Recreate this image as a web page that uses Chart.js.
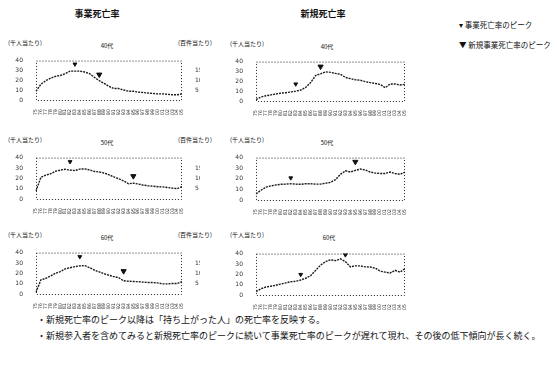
<!DOCTYPE html>
<html lang="ja">
<head>
<meta charset="UTF-8">
<title>死亡率の推移</title>
<script src="https://cdn.jsdelivr.net/npm/chart.js"></script>
<style>
  body { margin: 0; background: #fff; font-family: "Noto Sans CJK JP", "Noto Sans", sans-serif; color: #111; }
  #wrap { position: relative; width: 557px; height: 365px; overflow: hidden; }
  canvas { position: absolute; }
  .t { position: absolute; white-space: nowrap; line-height: 1; color: #111; }
  .head { font-size: 9px; font-weight: bold; transform: translateX(-50%); }
  .ax { font-size: 6px; }
  .pn { font-size: 6px; transform: translateX(-50%); }
  .lg { font-size: 7.5px; }
  .note { font-size: 9px; }
</style>
</head>
<body>
<div id="wrap">
  <div class="t head" style="left:97px;top:9px">事業死亡率</div>
  <div class="t head" style="left:323px;top:9px">新規死亡率</div>

  <div class="t lg" style="left:459px;top:21px">▾ 事業死亡率のピーク</div>
  <div class="t lg" style="left:459px;top:41px">▼ 新規事業死亡率のピーク</div>

  <div class="t ax" style="left:8px;top:40px">(千人当たり)</div>
  <div class="t ax" style="left:178px;top:40px">(百件当たり)</div>
  <div class="t pn" style="left:107px;top:43px">40代</div>
  <div class="t ax" style="left:230px;top:41px">(千人当たり)</div>
  <div class="t pn" style="left:327px;top:44px">40代</div>

  <div class="t ax" style="left:8px;top:137px">(千人当たり)</div>
  <div class="t ax" style="left:178px;top:137px">(百件当たり)</div>
  <div class="t pn" style="left:107px;top:140px">50代</div>
  <div class="t ax" style="left:230px;top:137px">(千人当たり)</div>
  <div class="t pn" style="left:327px;top:140px">50代</div>

  <div class="t ax" style="left:8px;top:232px">(千人当たり)</div>
  <div class="t ax" style="left:178px;top:232px">(百件当たり)</div>
  <div class="t pn" style="left:107px;top:235px">60代</div>
  <div class="t ax" style="left:230px;top:232px">(千人当たり)</div>
  <div class="t pn" style="left:329px;top:235px">60代</div>

  <div class="t note" style="left:37px;top:315px">・新規死亡率のピーク以降は「持ち上がった人」の死亡率を反映する。</div>
  <div class="t note" style="left:37px;top:331px">・新規参入者を含めてみると新規死亡率のピークに続いて事業死亡率のピークが遅れて現れ、その後の低下傾向が長く続く。</div>

  <canvas id="c1" width="195" height="63" style="left:5px;top:52px"></canvas>
  <canvas id="c2" width="195" height="65" style="left:5px;top:149px"></canvas>
  <canvas id="c3" width="195" height="65" style="left:5px;top:244px"></canvas>
  <canvas id="c4" width="197" height="63" style="left:215px;top:53px"></canvas>
  <canvas id="c5" width="197" height="66" style="left:215px;top:149px"></canvas>
  <canvas id="c6" width="197" height="65" style="left:215px;top:245px"></canvas>
</div>

<script>
// 横軸（年）
const years = [];
for (let y = 1975; y <= 2005; y++) years.push(String(y));

// 左列：事業死亡率
const biz40 = [8.9,16,19.6,22.2,24,24.9,26.7,29.3,29.3,29.3,28.4,26.7,23.1,19.6,16.9,13.8,11.6,11.6,10.2,8.9,8.9,8,7.6,7.1,6.7,6.2,6.2,5.8,5.3,5.3,6.2];
const biz50 = [7.7,20.9,23,24.4,26.8,27.9,28.7,27.9,27.5,28.9,29.1,28.1,26.6,26.1,25.1,23.4,21.3,19.6,17.4,14.7,15.3,14.5,13.4,12.8,12.4,11.9,11.7,11.1,10.5,10,11.9];
const biz60 = [1.7,13.6,15.1,17.4,20,21.7,24.3,25.4,26.4,27.2,27.5,25.5,23.1,21.3,19.6,18.1,16.8,15.7,12.8,12.3,12.1,11.9,11.5,11.1,11.1,10.7,9.8,9.8,10.2,10.2,11.9];

// 右列：新規死亡率
const new40 = [1.5,4,5.3,6.2,7.1,8,8.4,9.2,10,11.1,13.8,18.7,25.8,27.6,29.6,29.1,28,27.1,24,22.7,21.6,21.1,19.6,18.7,17.8,16.9,13.5,17.2,17.2,16.3,16.9];
const new50 = [5.8,9.2,12.1,13.3,14.2,14.8,15,15.3,15,14.8,15.4,15.3,15,15,15.8,16.7,19.2,24.2,27.5,26.4,27.9,29.2,28.3,26.4,25.4,25,25,26.4,25,24.2,26.4];
const new60 = [3.4,6,7.7,8.5,9.4,10.6,11.7,12.8,13.2,14.5,16.2,18.7,23.8,28.9,32.3,34,33.2,34.9,32.3,27.2,28.1,28.1,27.2,27,26,23,22.1,21.3,23.8,22.1,25.5];

// ピーク印 [位置, 値]
const peaks40L = [[8, 36.4], [13, 25.8]];
const peaks50L = [[7, 36], [20, 22.1]];
const peaks60L = [[9, 36], [18, 22.1]];
const peaks40R = [[8, 17.2], [13, 34.9]];
const peaks50R = [[7, 20.8], [20, 36]];
const peaks60R = [[9, 19.8], [18, 39.5]];

// 目盛
const leftTicks = [0, 10, 20, 30, 40];
const rightTicks = [0, 5, 10, 15, 20];

const dotBox = {
  id: 'dotBox',
  afterDraw(chart) {
    const a = chart.chartArea, c = chart.ctx;
    c.save();
    c.strokeStyle = '#222';
    c.lineWidth = 1;
    c.setLineDash([1, 2]);
    c.strokeRect(a.left + 0.5, a.top + 0.5, a.right - a.left - 1, a.bottom - a.top);
    c.restore();
  }
};

function marks(peaks, i) {
  const arr = years.map(() => null);
  arr[peaks[i][0]] = peaks[i][1];
  return arr;
}

function makeChart(id, values, peaks, leftCol) {
  const tickFont = { size: 5, family: 'DejaVu Sans' };
  const scales = {
    x: {
      grid: { display: false },
      border: { display: false },
      ticks: { color: '#333', font: tickFont, autoSkip: false, minRotation: 90, maxRotation: 90, padding: 1 },
      afterFit: s => { s.height = 15; }
    },
    y: {
      min: 0, max: 40,
      grid: { display: false },
      border: { display: false },
      afterBuildTicks: s => { s.ticks = leftTicks.map(v => ({ value: v })); },
      ticks: { color: '#333', font: { size: 6, family: 'DejaVu Sans' }, padding: 5, autoSkip: false },
      afterFit: s => { s.width = leftCol ? 31 : 41; }
    }
  };
  if (leftCol) {
    scales.y2 = {
      position: 'right', min: 0, max: 20,
      grid: { display: false },
      border: { display: false },
      afterBuildTicks: s => { s.ticks = rightTicks.map(v => ({ value: v })); },
      ticks: { color: '#333', font: { size: 6, family: 'DejaVu Sans' }, padding: 5, autoSkip: false,
               callback: v => (v === 0 || v === 20) ? '' : v },
      afterFit: s => { s.width = 18; }
    };
  }
  new Chart(document.getElementById(id), {
    type: 'line',
    data: {
      labels: years,
      datasets: [
        { data: values, borderColor: '#1a1a1a', borderWidth: 1.4, borderDash: [2, 1],
          pointRadius: 0, tension: 0, yAxisID: 'y' },
        { data: marks(peaks, 0), showLine: false, pointStyle: 'triangle', rotation: 180,
          pointRadius: 2.2, backgroundColor: '#111', borderColor: '#111', yAxisID: 'y' },
        { data: marks(peaks, 1), showLine: false, pointStyle: 'triangle', rotation: 180,
          pointRadius: 3, backgroundColor: '#111', borderColor: '#111', yAxisID: 'y' }
      ]
    },
    options: {
      responsive: false,
      animation: false,
      layout: { padding: { top: 3, right: leftCol ? 0 : 5, left: 0, bottom: 0 } },
      plugins: { legend: { display: false }, tooltip: { enabled: false } },
      scales: scales
    },
    plugins: [dotBox]
  });
}

makeChart('c1', biz40, peaks40L, true);
makeChart('c2', biz50, peaks50L, true);
makeChart('c3', biz60, peaks60L, true);
makeChart('c4', new40, peaks40R, false);
makeChart('c5', new50, peaks50R, false);
makeChart('c6', new60, peaks60R, false);
</script>
</body>
</html>
